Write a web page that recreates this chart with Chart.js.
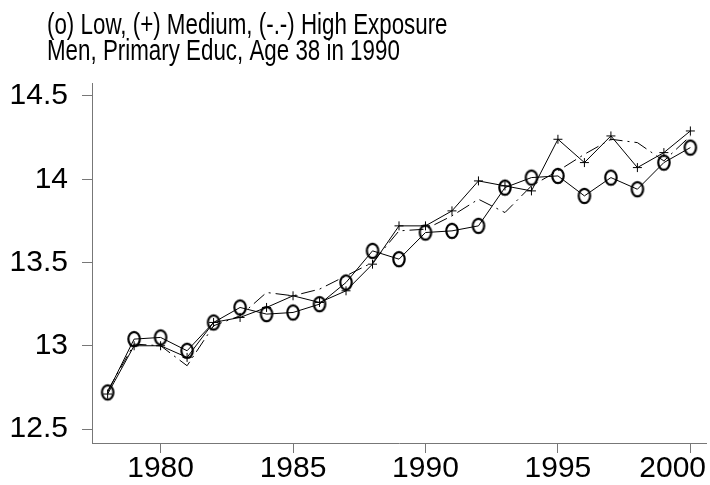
<!DOCTYPE html>
<html>
<head>
<meta charset="utf-8">
<script src="https://cdn.jsdelivr.net/npm/chart.js@4"></script>
<style>
    body { margin: 0; background: #fff; }
</style>
</head>
<body>
<canvas id="chart" width="710" height="485"></canvas>
<script>
const years = [1978, 1979, 1980, 1981, 1982, 1983, 1984, 1985, 1986, 1987, 1988, 1989,
               1990, 1991, 1992, 1993, 1994, 1995, 1996, 1997, 1998, 1999, 2000];
const lowExp = [12.72, 13.04, 13.05, 12.97, 13.14, 13.23, 13.19, 13.20, 13.25, 13.38, 13.57, 13.52,
                13.68, 13.69, 13.72, 13.95, 14.01, 14.02, 13.90, 14.01, 13.94, 14.10, 14.19];
const medExp = [12.71, 13.00, 13.00, 12.93, 13.14, 13.17, 13.23, 13.30, 13.26, 13.33, 13.49, 13.72,
                13.72, 13.81, 13.99, 13.96, 13.93, 14.24, 14.10, 14.26, 14.07, 14.16, 14.29];
const highExp = [12.73, 13.01, 13.00, 12.88, 13.12, 13.18, 13.32, 13.30, 13.34, 13.42, 13.50, 13.69,
                 13.70, 13.78, 13.88, 13.80, 13.96, 14.05, 14.15, 14.24, 14.22, 14.11, 14.26];
const xTicks = [1980, 1985, 1990, 1995, 2000];
const yTicks = [12.5, 13, 13.5, 14, 14.5];
const titleLines = ["(o) Low, (+) Medium, (-.-) High Exposure", "Men, Primary Educ, Age 38 in 1990"];

const toPoints = vals => vals.map((v, i) => ({ x: years[i], y: v }));

const fontFamily = '"Liberation Sans", Arial, sans-serif';

// tall "O" marker like the original
const ring = document.createElement("canvas");
ring.width = 16;
ring.height = 20;
const rc = ring.getContext("2d");
rc.strokeStyle = "#000";
rc.lineWidth = 2.2;
rc.beginPath();
rc.ellipse(8, 10, 5.7, 7.2, 0, 0, Math.PI * 2);
rc.stroke();

// title + x labels (last label is pulled in so it stays on the canvas)
const textPlugin = {
    id: "textBits",
    afterDraw(chart) {
        const ctx = chart.ctx;
        ctx.save();
        ctx.fillStyle = "#000";
        ctx.textBaseline = "alphabetic";

        ctx.save();
        ctx.font = "30px " + fontFamily;
        ctx.translate(47, 0);
        ctx.scale(0.745, 1);
        ctx.fillText(titleLines[0], 0, 34);
        ctx.fillText(titleLines[1], 0, 60);
        ctx.restore();

        const xs = chart.scales.x;
        ctx.font = "30px " + fontFamily;
        ctx.textAlign = "center";
        xTicks.forEach(v => {
            const txt = String(v);
            const half = ctx.measureText(txt).width / 2;
            const px = Math.min(xs.getPixelForValue(v), chart.width - 4 - half);
            ctx.fillText(txt, px, 477);
        });
        ctx.restore();
    }
};

const axisGray = "#777";

new Chart(document.getElementById("chart").getContext("2d"), {
    type: "line",
    data: {
        datasets: [
            {
                label: "Low",
                data: toPoints(lowExp),
                borderColor: "#000",
                borderWidth: 1,
                pointStyle: ring,
                pointRadius: 7,
                tension: 0
            },
            {
                label: "Medium",
                data: toPoints(medExp),
                borderColor: "#000",
                borderWidth: 1,
                pointStyle: "cross",
                pointRadius: 4.5,
                pointBorderColor: "#000",
                pointBorderWidth: 1,
                tension: 0
            },
            {
                label: "High",
                data: toPoints(highExp),
                borderColor: "#000",
                borderWidth: 1,
                borderDash: [14, 5, 2, 5],
                pointRadius: 0,
                tension: 0
            }
        ]
    },
    options: {
        responsive: false,
        animation: false,
        layout: { autoPadding: false, padding: { top: 83, right: 4, left: 0, bottom: 0 } },
        plugins: {
            legend: { display: false },
            tooltip: { enabled: false }
        },
        scales: {
            x: {
                type: "linear",
                min: 1977.41,
                max: 2000.59,
                afterFit: s => { s.height = 42; s.paddingLeft = 0; s.paddingRight = 0; },
                afterBuildTicks: s => { s.ticks = xTicks.map(v => ({ value: v })); },
                grid: { drawOnChartArea: false, tickLength: 10, color: axisGray },
                border: { color: axisGray, width: 1 },
                ticks: { display: false }
            },
            y: {
                min: 12.416,
                max: 14.578,
                afterFit: s => { s.width = 92; },
                afterBuildTicks: s => { s.ticks = yTicks.map(v => ({ value: v })); },
                grid: { drawOnChartArea: false, tickLength: 10, color: axisGray },
                border: { color: axisGray, width: 1 },
                ticks: { color: "#000", font: { family: fontFamily, size: 30 }, padding: 14,
                         callback: v => String(v) }
            }
        }
    },
    plugins: [textPlugin]
});
</script>
</body>
</html>
